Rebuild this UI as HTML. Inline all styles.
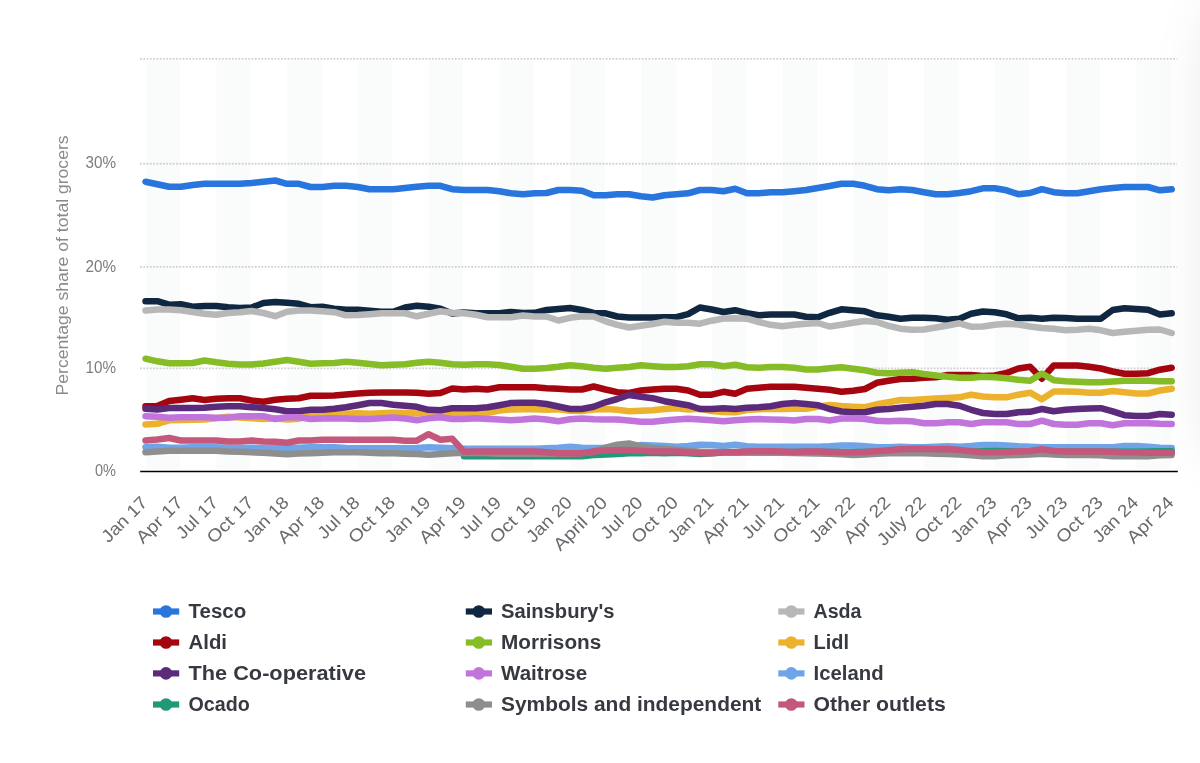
<!DOCTYPE html>
<html><head><meta charset="utf-8"><title>Grocery market share</title>
<style>
html,body{margin:0;padding:0;background:#fff;}
body{width:1200px;height:763px;overflow:hidden;position:relative;font-family:"Liberation Sans",sans-serif;}
svg{position:absolute;left:0;top:0;display:block;will-change:transform;}
text{font-family:"Liberation Sans",sans-serif;}
.ax{font-size:17px;fill:#7d7d80;}
.xl{font-size:17.5px;fill:#686a6e;}
.lg{font-size:19.5px;font-weight:bold;fill:#363a40;}
.shade{position:absolute;pointer-events:none;}
</style></head><body>

<svg width="1200" height="763" viewBox="0 0 1200 763">
<g fill="#fafbfb">
<rect x="145.70" y="60.5" width="34.38" height="408.3"/>
<rect x="216.47" y="60.5" width="34.38" height="408.3"/>
<rect x="287.24" y="60.5" width="34.38" height="408.3"/>
<rect x="358.01" y="60.5" width="34.38" height="408.3"/>
<rect x="428.78" y="60.5" width="34.38" height="408.3"/>
<rect x="499.55" y="60.5" width="34.38" height="408.3"/>
<rect x="570.32" y="60.5" width="34.38" height="408.3"/>
<rect x="641.09" y="60.5" width="34.38" height="408.3"/>
<rect x="711.86" y="60.5" width="34.38" height="408.3"/>
<rect x="782.63" y="60.5" width="34.38" height="408.3"/>
<rect x="853.40" y="60.5" width="34.38" height="408.3"/>
<rect x="924.17" y="60.5" width="34.38" height="408.3"/>
<rect x="994.94" y="60.5" width="34.38" height="408.3"/>
<rect x="1065.71" y="60.5" width="34.38" height="408.3"/>
<rect x="1136.48" y="60.5" width="34.38" height="408.3"/>
</g>
<g stroke="#d3d0d6" stroke-width="1.8" stroke-dasharray="1.8 1.48" fill="none">
<path d="M140 58.9H1177.0"/>
<path d="M140 163.75H1177.0"/>
<path d="M140 266.9H1177.0"/>
<path d="M140 368.4H1177.0"/>
</g>
<path d="M140.2 471.5H1177.8" stroke="#000" stroke-width="1.6" fill="none"/>
<g fill="none" stroke-width="6.5" stroke-linejoin="round" stroke-linecap="round">
<path stroke="#2875dd" d="M145.5 181.7 L157.3 184.2 L169.1 186.7 L180.9 186.7 L192.7 185.0 L204.5 183.8 L216.3 183.8 L228.1 183.8 L239.9 183.8 L251.7 183.0 L263.4 181.7 L275.2 180.5 L287.0 183.8 L298.8 183.8 L310.6 187.0 L322.4 187.0 L334.2 185.8 L346.0 185.8 L357.8 187.0 L369.6 189.2 L381.4 189.2 L393.2 189.2 L405.0 188.0 L416.8 186.8 L428.6 185.8 L440.4 185.8 L452.2 189.2 L464.0 190.0 L475.8 190.0 L487.6 190.0 L499.4 191.3 L511.1 193.3 L522.9 194.2 L534.7 193.3 L546.5 193.0 L558.3 190.0 L570.1 190.0 L581.9 190.8 L593.7 195.3 L605.5 195.3 L617.3 194.2 L629.1 194.2 L640.9 196.3 L652.7 197.5 L664.5 195.3 L676.3 194.3 L688.1 193.3 L699.9 190.0 L711.7 190.0 L723.5 191.3 L735.2 188.8 L747.0 193.3 L758.8 193.3 L770.6 192.2 L782.4 192.2 L794.2 191.2 L806.0 190.0 L817.8 188.0 L829.6 186.0 L841.4 183.7 L853.2 183.7 L865.0 185.8 L876.8 189.2 L888.6 190.3 L900.4 189.2 L912.2 190.0 L924.0 192.2 L935.8 194.2 L947.6 194.2 L959.4 193.0 L971.1 191.2 L982.9 188.3 L994.7 188.3 L1006.5 190.3 L1018.3 194.2 L1030.1 193.0 L1041.9 189.2 L1053.7 192.2 L1065.5 193.3 L1077.3 193.3 L1089.1 191.2 L1100.9 189.2 L1112.7 188.0 L1124.5 187.0 L1136.3 187.0 L1148.1 187.0 L1159.9 190.3 L1171.7 189.2"/>
<path stroke="#0f2741" d="M145.5 301.2 L157.3 301.2 L169.1 304.7 L180.9 304.2 L192.7 306.7 L204.5 306.0 L216.3 306.0 L228.1 307.2 L239.9 308.0 L251.7 307.5 L263.4 303.0 L275.2 302.0 L287.0 302.8 L298.8 303.8 L310.6 307.2 L322.4 306.8 L334.2 308.7 L346.0 309.8 L357.8 309.8 L369.6 310.8 L381.4 311.7 L393.2 311.7 L405.0 307.5 L416.8 305.7 L428.6 306.7 L440.4 308.7 L452.2 313.5 L464.0 312.5 L475.8 313.3 L487.6 313.2 L499.4 313.2 L511.1 312.0 L522.9 313.0 L534.7 312.8 L546.5 310.0 L558.3 309.0 L570.1 308.0 L581.9 310.0 L593.7 313.0 L605.5 313.3 L617.3 316.5 L629.1 317.5 L640.9 317.5 L652.7 317.5 L664.5 317.3 L676.3 317.2 L688.1 314.2 L699.9 307.5 L711.7 309.5 L723.5 312.0 L735.2 310.2 L747.0 313.2 L758.8 315.3 L770.6 314.5 L782.4 314.5 L794.2 314.5 L806.0 316.7 L817.8 317.3 L829.6 312.8 L841.4 309.3 L853.2 310.3 L865.0 311.3 L876.8 315.3 L888.6 316.8 L900.4 318.7 L912.2 317.7 L924.0 317.7 L935.8 318.3 L947.6 319.7 L959.4 318.7 L971.1 313.8 L982.9 311.5 L994.7 312.3 L1006.5 314.3 L1018.3 318.3 L1030.1 317.7 L1041.9 318.7 L1053.7 317.7 L1065.5 318.0 L1077.3 318.7 L1089.1 318.7 L1100.9 318.7 L1112.7 310.0 L1124.5 308.3 L1136.3 309.0 L1148.1 309.8 L1159.9 314.5 L1171.7 313.3"/>
<path stroke="#b7b7b7" d="M145.5 310.5 L157.3 309.5 L169.1 309.5 L180.9 310.3 L192.7 312.0 L204.5 313.8 L216.3 314.8 L228.1 313.0 L239.9 312.2 L251.7 311.0 L263.4 313.0 L275.2 316.2 L287.0 311.7 L298.8 310.5 L310.6 310.5 L322.4 311.3 L334.2 312.2 L346.0 315.3 L357.8 315.0 L369.6 314.2 L381.4 313.3 L393.2 313.2 L405.0 313.3 L416.8 316.3 L428.6 313.8 L440.4 311.3 L452.2 312.8 L464.0 313.2 L475.8 314.8 L487.6 317.2 L499.4 317.2 L511.1 317.2 L522.9 315.5 L534.7 316.5 L546.5 316.5 L558.3 320.5 L570.1 317.8 L581.9 316.2 L593.7 316.5 L605.5 321.3 L617.3 324.8 L629.1 327.5 L640.9 325.7 L652.7 324.0 L664.5 321.8 L676.3 322.7 L688.1 322.8 L699.9 323.7 L711.7 320.7 L723.5 318.5 L735.2 318.3 L747.0 318.7 L758.8 322.0 L770.6 324.8 L782.4 326.3 L794.2 324.7 L806.0 323.8 L817.8 323.0 L829.6 326.5 L841.4 324.7 L853.2 322.8 L865.0 321.0 L876.8 322.0 L888.6 325.8 L900.4 328.7 L912.2 329.7 L924.0 329.5 L935.8 327.5 L947.6 325.5 L959.4 323.3 L971.1 326.7 L982.9 326.5 L994.7 324.7 L1006.5 323.8 L1018.3 324.5 L1030.1 326.5 L1041.9 328.0 L1053.7 328.8 L1065.5 330.3 L1077.3 329.7 L1089.1 328.8 L1100.9 330.3 L1112.7 333.0 L1124.5 331.7 L1136.3 330.7 L1148.1 329.7 L1159.9 329.5 L1171.7 333.0"/>
<path stroke="#a5050e" d="M145.5 406.3 L157.3 406.0 L169.1 401.0 L180.9 399.7 L192.7 398.3 L204.5 400.0 L216.3 398.8 L228.1 398.3 L239.9 398.3 L251.7 400.5 L263.4 401.7 L275.2 399.7 L287.0 398.8 L298.8 398.3 L310.6 395.8 L322.4 395.8 L334.2 395.5 L346.0 394.5 L357.8 393.5 L369.6 392.7 L381.4 392.5 L393.2 392.5 L405.0 392.5 L416.8 392.8 L428.6 393.7 L440.4 393.0 L452.2 388.5 L464.0 389.5 L475.8 388.7 L487.6 389.5 L499.4 387.3 L511.1 387.3 L522.9 387.3 L534.7 387.3 L546.5 388.2 L558.3 388.7 L570.1 389.5 L581.9 389.5 L593.7 386.5 L605.5 389.5 L617.3 392.2 L629.1 393.0 L640.9 390.5 L652.7 389.5 L664.5 388.7 L676.3 388.7 L688.1 390.5 L699.9 394.7 L711.7 394.7 L723.5 391.8 L735.2 393.7 L747.0 388.7 L758.8 387.7 L770.6 386.8 L782.4 386.8 L794.2 386.8 L806.0 387.7 L817.8 388.7 L829.6 389.8 L841.4 391.7 L853.2 390.7 L865.0 389.0 L876.8 382.8 L888.6 380.7 L900.4 379.0 L912.2 378.7 L924.0 377.8 L935.8 377.2 L947.6 375.0 L959.4 375.0 L971.1 375.0 L982.9 376.0 L994.7 375.5 L1006.5 373.0 L1018.3 368.5 L1030.1 366.8 L1041.9 378.7 L1053.7 365.5 L1065.5 365.5 L1077.3 365.5 L1089.1 366.8 L1100.9 368.5 L1112.7 371.5 L1124.5 373.8 L1136.3 373.8 L1148.1 373.2 L1159.9 369.7 L1171.7 367.7"/>
<path stroke="#86bc25" d="M145.5 358.7 L157.3 361.3 L169.1 363.3 L180.9 363.2 L192.7 363.0 L204.5 360.5 L216.3 362.3 L228.1 363.7 L239.9 364.5 L251.7 364.5 L263.4 363.5 L275.2 361.7 L287.0 360.0 L298.8 361.8 L310.6 363.7 L322.4 363.3 L334.2 363.0 L346.0 361.8 L357.8 362.8 L369.6 364.0 L381.4 365.3 L393.2 364.7 L405.0 364.3 L416.8 362.8 L428.6 361.8 L440.4 362.8 L452.2 364.3 L464.0 364.7 L475.8 364.2 L487.6 364.2 L499.4 365.0 L511.1 366.8 L522.9 368.8 L534.7 368.8 L546.5 368.0 L558.3 366.8 L570.1 365.3 L581.9 366.2 L593.7 367.7 L605.5 368.8 L617.3 367.8 L629.1 367.0 L640.9 365.3 L652.7 366.2 L664.5 367.0 L676.3 367.0 L688.1 366.2 L699.9 364.3 L711.7 364.3 L723.5 366.3 L735.2 364.8 L747.0 367.3 L758.8 367.8 L770.6 367.0 L782.4 367.0 L794.2 367.8 L806.0 369.5 L817.8 369.5 L829.6 368.2 L841.4 367.3 L853.2 368.8 L865.0 370.3 L876.8 372.8 L888.6 373.2 L900.4 372.8 L912.2 372.2 L924.0 374.0 L935.8 375.5 L947.6 376.8 L959.4 377.7 L971.1 377.7 L982.9 376.8 L994.7 377.2 L1006.5 378.2 L1018.3 379.8 L1030.1 380.7 L1041.9 373.5 L1053.7 380.2 L1065.5 381.3 L1077.3 381.8 L1089.1 382.3 L1100.9 382.3 L1112.7 381.5 L1124.5 380.7 L1136.3 380.7 L1148.1 380.7 L1159.9 381.2 L1171.7 381.2"/>
<path stroke="#ecb22e" d="M145.5 424.5 L157.3 423.8 L169.1 420.3 L180.9 420.0 L192.7 419.8 L204.5 419.5 L216.3 418.3 L228.1 416.8 L239.9 417.5 L251.7 418.3 L263.4 419.0 L275.2 418.3 L287.0 419.5 L298.8 418.7 L310.6 415.5 L322.4 415.5 L334.2 414.7 L346.0 413.8 L357.8 413.3 L369.6 413.8 L381.4 413.3 L393.2 412.7 L405.0 413.0 L416.8 413.5 L428.6 411.7 L440.4 412.3 L452.2 413.8 L464.0 413.5 L475.8 413.5 L487.6 413.0 L499.4 410.5 L511.1 409.5 L522.9 409.2 L534.7 409.3 L546.5 409.8 L558.3 409.3 L570.1 410.8 L581.9 411.0 L593.7 409.5 L605.5 409.0 L617.3 409.8 L629.1 411.2 L640.9 410.7 L652.7 410.2 L664.5 409.0 L676.3 408.3 L688.1 409.5 L699.9 408.7 L711.7 411.0 L723.5 412.0 L735.2 412.3 L747.0 410.0 L758.8 409.2 L770.6 408.7 L782.4 409.0 L794.2 408.7 L806.0 408.7 L817.8 406.7 L829.6 405.0 L841.4 406.0 L853.2 406.7 L865.0 407.2 L876.8 404.3 L888.6 402.2 L900.4 400.0 L912.2 400.0 L924.0 399.3 L935.8 398.5 L947.6 398.0 L959.4 397.3 L971.1 394.7 L982.9 396.5 L994.7 397.3 L1006.5 397.3 L1018.3 394.7 L1030.1 392.7 L1041.9 399.3 L1053.7 391.5 L1065.5 391.5 L1077.3 391.8 L1089.1 392.7 L1100.9 392.7 L1112.7 391.0 L1124.5 392.2 L1136.3 393.5 L1148.1 393.5 L1159.9 390.5 L1171.7 388.7"/>
<path stroke="#5b2a7a" d="M145.5 408.8 L157.3 409.5 L169.1 408.0 L180.9 408.0 L192.7 408.0 L204.5 407.8 L216.3 406.8 L228.1 406.2 L239.9 406.2 L251.7 407.2 L263.4 408.0 L275.2 409.3 L287.0 411.2 L298.8 411.2 L310.6 409.8 L322.4 409.8 L334.2 408.7 L346.0 407.2 L357.8 405.2 L369.6 403.0 L381.4 403.0 L393.2 404.7 L405.0 405.8 L416.8 406.8 L428.6 409.8 L440.4 410.2 L452.2 408.2 L464.0 408.2 L475.8 408.2 L487.6 407.2 L499.4 405.2 L511.1 403.0 L522.9 402.7 L534.7 402.7 L546.5 404.0 L558.3 406.5 L570.1 409.0 L581.9 409.0 L593.7 406.8 L605.5 402.3 L617.3 399.0 L629.1 395.0 L640.9 396.8 L652.7 398.2 L664.5 401.2 L676.3 403.2 L688.1 405.2 L699.9 409.0 L711.7 409.0 L723.5 408.2 L735.2 409.0 L747.0 407.8 L758.8 407.2 L770.6 406.2 L782.4 404.0 L794.2 403.0 L806.0 404.0 L817.8 405.2 L829.6 409.0 L841.4 411.5 L853.2 412.2 L865.0 412.2 L876.8 409.8 L888.6 409.0 L900.4 407.8 L912.2 406.8 L924.0 405.7 L935.8 404.0 L947.6 404.0 L959.4 405.7 L971.1 409.8 L982.9 413.0 L994.7 414.0 L1006.5 414.0 L1018.3 412.3 L1030.1 411.8 L1041.9 409.0 L1053.7 411.3 L1065.5 409.8 L1077.3 409.0 L1089.1 408.5 L1100.9 408.2 L1112.7 411.3 L1124.5 415.2 L1136.3 416.0 L1148.1 416.0 L1159.9 414.0 L1171.7 414.8"/>
<path stroke="#c174dc" d="M145.5 416.2 L157.3 416.8 L169.1 417.7 L180.9 417.3 L192.7 417.3 L204.5 417.3 L216.3 417.8 L228.1 417.8 L239.9 416.2 L251.7 416.2 L263.4 416.2 L275.2 419.0 L287.0 417.3 L298.8 417.3 L310.6 419.0 L322.4 418.5 L334.2 418.2 L346.0 418.5 L357.8 419.0 L369.6 419.0 L381.4 418.2 L393.2 417.5 L405.0 418.5 L416.8 420.2 L428.6 418.2 L440.4 417.3 L452.2 419.0 L464.0 419.0 L475.8 418.2 L487.6 419.0 L499.4 419.5 L511.1 420.2 L522.9 419.5 L534.7 418.5 L546.5 419.5 L558.3 421.2 L570.1 419.3 L581.9 418.5 L593.7 419.3 L605.5 419.5 L617.3 419.5 L629.1 420.5 L640.9 421.8 L652.7 421.8 L664.5 420.5 L676.3 419.5 L688.1 418.8 L699.9 419.5 L711.7 420.2 L723.5 421.3 L735.2 420.2 L747.0 419.5 L758.8 419.0 L770.6 419.5 L782.4 419.8 L794.2 420.5 L806.0 419.0 L817.8 419.0 L829.6 420.5 L841.4 418.5 L853.2 418.2 L865.0 419.0 L876.8 420.7 L888.6 421.3 L900.4 420.7 L912.2 421.3 L924.0 423.2 L935.8 423.2 L947.6 422.3 L959.4 422.3 L971.1 424.0 L982.9 422.3 L994.7 422.3 L1006.5 422.3 L1018.3 424.0 L1030.1 424.0 L1041.9 420.7 L1053.7 424.0 L1065.5 424.8 L1077.3 424.8 L1089.1 423.2 L1100.9 423.2 L1112.7 425.2 L1124.5 423.2 L1136.3 423.2 L1148.1 423.2 L1159.9 423.8 L1171.7 424.0"/>
<path stroke="#6fa4e6" d="M145.5 447.2 L157.3 446.8 L169.1 447.7 L180.9 447.7 L192.7 447.2 L204.5 447.2 L216.3 447.2 L228.1 447.7 L239.9 448.0 L251.7 447.7 L263.4 448.0 L275.2 448.3 L287.0 448.3 L298.8 447.7 L310.6 447.2 L322.4 447.2 L334.2 447.3 L346.0 448.0 L357.8 448.3 L369.6 448.3 L381.4 448.3 L393.2 448.3 L405.0 448.3 L416.8 448.0 L428.6 447.2 L440.4 447.8 L452.2 448.3 L464.0 448.8 L475.8 448.8 L487.6 448.8 L499.4 448.8 L511.1 448.8 L522.9 448.8 L534.7 448.8 L546.5 448.3 L558.3 447.7 L570.1 446.8 L581.9 447.7 L593.7 448.0 L605.5 448.0 L617.3 447.8 L629.1 447.7 L640.9 445.0 L652.7 445.5 L664.5 446.0 L676.3 446.7 L688.1 446.0 L699.9 444.7 L711.7 445.0 L723.5 446.0 L735.2 444.7 L747.0 446.3 L758.8 446.7 L770.6 446.7 L782.4 446.7 L794.2 446.7 L806.0 446.7 L817.8 446.7 L829.6 446.3 L841.4 445.5 L853.2 445.5 L865.0 446.3 L876.8 447.2 L888.6 447.2 L900.4 446.7 L912.2 447.2 L924.0 447.2 L935.8 446.7 L947.6 446.3 L959.4 446.7 L971.1 446.0 L982.9 445.0 L994.7 445.0 L1006.5 445.5 L1018.3 446.3 L1030.1 446.7 L1041.9 447.2 L1053.7 447.2 L1065.5 447.2 L1077.3 447.2 L1089.1 447.2 L1100.9 447.2 L1112.7 447.2 L1124.5 446.0 L1136.3 446.0 L1148.1 446.7 L1159.9 447.7 L1171.7 448.0"/>
<path stroke="#1f9977" d="M464.0 456.2 L475.8 456.2 L487.6 456.2 L499.4 456.2 L511.1 456.2 L522.9 456.2 L534.7 456.2 L546.5 456.2 L558.3 456.2 L570.1 456.2 L581.9 456.2 L593.7 455.0 L605.5 454.5 L617.3 454.0 L629.1 453.3 L640.9 453.3 L652.7 452.8 L664.5 453.3 L676.3 452.8 L688.1 453.3 L699.9 454.0 L711.7 453.3 L723.5 452.5 L735.2 452.5 L747.0 452.5 L758.8 452.5 L770.6 452.5 L782.4 452.2 L794.2 452.0 L806.0 452.0 L817.8 452.0 L829.6 452.0 L841.4 452.0 L853.2 452.0 L865.0 452.0 L876.8 451.7 L888.6 451.7 L900.4 451.7 L912.2 451.7 L924.0 451.7 L935.8 451.7 L947.6 451.7 L959.4 451.7 L971.1 451.7 L982.9 451.3 L994.7 451.0 L1006.5 451.3 L1018.3 451.7 L1030.1 451.7 L1041.9 451.7 L1053.7 451.7 L1065.5 451.7 L1077.3 451.7 L1089.1 451.7 L1100.9 451.7 L1112.7 451.7 L1124.5 451.7 L1136.3 451.7 L1148.1 451.5 L1159.9 451.3 L1171.7 451.3"/>
<path stroke="#8e8e8e" d="M145.5 452.2 L157.3 451.5 L169.1 450.7 L180.9 450.7 L192.7 450.7 L204.5 450.7 L216.3 450.7 L228.1 451.5 L239.9 451.8 L251.7 452.3 L263.4 452.7 L275.2 453.5 L287.0 454.3 L298.8 453.5 L310.6 453.2 L322.4 452.7 L334.2 452.3 L346.0 452.3 L357.8 452.3 L369.6 452.7 L381.4 453.2 L393.2 453.3 L405.0 453.7 L416.8 454.0 L428.6 454.7 L440.4 454.0 L452.2 453.2 L464.0 452.7 L475.8 453.0 L487.6 453.3 L499.4 453.7 L511.1 453.7 L522.9 453.7 L534.7 453.7 L546.5 453.7 L558.3 453.7 L570.1 453.7 L581.9 453.3 L593.7 451.7 L605.5 447.7 L617.3 444.7 L629.1 443.5 L640.9 446.3 L652.7 448.0 L664.5 448.8 L676.3 449.7 L688.1 450.8 L699.9 451.7 L711.7 452.0 L723.5 452.0 L735.2 452.0 L747.0 452.0 L758.8 452.2 L770.6 452.5 L782.4 452.7 L794.2 453.0 L806.0 453.3 L817.8 453.5 L829.6 453.7 L841.4 454.3 L853.2 455.0 L865.0 454.5 L876.8 453.7 L888.6 453.3 L900.4 453.3 L912.2 453.3 L924.0 453.3 L935.8 453.7 L947.6 454.0 L959.4 454.5 L971.1 455.3 L982.9 456.2 L994.7 456.2 L1006.5 455.3 L1018.3 455.0 L1030.1 454.5 L1041.9 453.7 L1053.7 454.5 L1065.5 455.0 L1077.3 455.0 L1089.1 455.0 L1100.9 455.3 L1112.7 456.2 L1124.5 456.2 L1136.3 456.2 L1148.1 456.2 L1159.9 455.3 L1171.7 455.0"/>
<path stroke="#c4577a" d="M145.5 440.5 L157.3 439.5 L169.1 438.0 L180.9 440.5 L192.7 440.5 L204.5 440.5 L216.3 440.5 L228.1 441.5 L239.9 441.5 L251.7 440.5 L263.4 441.5 L275.2 441.8 L287.0 442.7 L298.8 440.5 L310.6 440.5 L322.4 439.7 L334.2 439.7 L346.0 439.7 L357.8 439.7 L369.6 439.7 L381.4 439.7 L393.2 439.7 L405.0 440.7 L416.8 440.7 L428.6 434.2 L440.4 439.7 L452.2 438.8 L464.0 451.7 L475.8 451.5 L487.6 451.5 L499.4 451.5 L511.1 451.5 L522.9 451.5 L534.7 451.5 L546.5 452.3 L558.3 453.2 L570.1 453.2 L581.9 453.2 L593.7 451.5 L605.5 450.2 L617.3 450.2 L629.1 450.2 L640.9 450.7 L652.7 451.5 L664.5 451.5 L676.3 451.5 L688.1 452.3 L699.9 453.2 L711.7 453.2 L723.5 452.3 L735.2 452.3 L747.0 451.5 L758.8 451.2 L770.6 451.2 L782.4 451.5 L794.2 452.0 L806.0 451.5 L817.8 451.5 L829.6 452.0 L841.4 452.3 L853.2 452.3 L865.0 452.0 L876.8 451.2 L888.6 450.2 L900.4 449.3 L912.2 449.0 L924.0 448.7 L935.8 449.3 L947.6 449.0 L959.4 450.0 L971.1 451.3 L982.9 452.3 L994.7 452.3 L1006.5 452.0 L1018.3 451.5 L1030.1 451.0 L1041.9 449.3 L1053.7 451.0 L1065.5 451.5 L1077.3 451.5 L1089.1 451.5 L1100.9 451.5 L1112.7 451.8 L1124.5 452.3 L1136.3 452.3 L1148.1 452.7 L1159.9 452.7 L1171.7 452.7"/>
</g>
<text class="ax" x="85.5" y="168.3" textLength="30.5" lengthAdjust="spacingAndGlyphs">30%</text>
<text class="ax" x="85.5" y="271.5" textLength="30.5" lengthAdjust="spacingAndGlyphs">20%</text>
<text class="ax" x="85.5" y="372.9" textLength="30.5" lengthAdjust="spacingAndGlyphs">10%</text>
<text class="ax" x="95.0" y="476.0" textLength="21.0" lengthAdjust="spacingAndGlyphs">0%</text>
<text x="0" y="0" transform="translate(68.3 265.4) rotate(-90)" text-anchor="middle" textLength="260" lengthAdjust="spacingAndGlyphs" style="font-size:16.5px;fill:#8a8a8a">Percentage share of total grocers</text>
<text class="ax xl" transform="translate(148.5 503.6) rotate(-45) scale(1.075 1)" text-anchor="end">Jan 17</text>
<text class="ax xl" transform="translate(183.9 503.6) rotate(-45) scale(1.125 1)" text-anchor="end">Apr 17</text>
<text class="ax xl" transform="translate(219.3 503.6) rotate(-45) scale(1.1 1)" text-anchor="end">Jul 17</text>
<text class="ax xl" transform="translate(254.7 503.6) rotate(-45) scale(1.125 1)" text-anchor="end">Oct 17</text>
<text class="ax xl" transform="translate(290.0 503.6) rotate(-45) scale(1.075 1)" text-anchor="end">Jan 18</text>
<text class="ax xl" transform="translate(325.4 503.6) rotate(-45) scale(1.125 1)" text-anchor="end">Apr 18</text>
<text class="ax xl" transform="translate(360.8 503.6) rotate(-45) scale(1.1 1)" text-anchor="end">Jul 18</text>
<text class="ax xl" transform="translate(396.2 503.6) rotate(-45) scale(1.125 1)" text-anchor="end">Oct 18</text>
<text class="ax xl" transform="translate(431.6 503.6) rotate(-45) scale(1.075 1)" text-anchor="end">Jan 19</text>
<text class="ax xl" transform="translate(467.0 503.6) rotate(-45) scale(1.125 1)" text-anchor="end">Apr 19</text>
<text class="ax xl" transform="translate(502.4 503.6) rotate(-45) scale(1.1 1)" text-anchor="end">Jul 19</text>
<text class="ax xl" transform="translate(537.7 503.6) rotate(-45) scale(1.125 1)" text-anchor="end">Oct 19</text>
<text class="ax xl" transform="translate(573.1 503.6) rotate(-45) scale(1.075 1)" text-anchor="end">Jan 20</text>
<text class="ax xl" transform="translate(608.5 503.6) rotate(-45) scale(1.15 1)" text-anchor="end">April 20</text>
<text class="ax xl" transform="translate(643.9 503.6) rotate(-45) scale(1.1 1)" text-anchor="end">Jul 20</text>
<text class="ax xl" transform="translate(679.3 503.6) rotate(-45) scale(1.125 1)" text-anchor="end">Oct 20</text>
<text class="ax xl" transform="translate(714.7 503.6) rotate(-45) scale(1.075 1)" text-anchor="end">Jan 21</text>
<text class="ax xl" transform="translate(750.0 503.6) rotate(-45) scale(1.125 1)" text-anchor="end">Apr 21</text>
<text class="ax xl" transform="translate(785.4 503.6) rotate(-45) scale(1.1 1)" text-anchor="end">Jul 21</text>
<text class="ax xl" transform="translate(820.8 503.6) rotate(-45) scale(1.125 1)" text-anchor="end">Oct 21</text>
<text class="ax xl" transform="translate(856.2 503.6) rotate(-45) scale(1.075 1)" text-anchor="end">Jan 22</text>
<text class="ax xl" transform="translate(891.6 503.6) rotate(-45) scale(1.125 1)" text-anchor="end">Apr 22</text>
<text class="ax xl" transform="translate(927.0 503.6) rotate(-45) scale(1.1 1)" text-anchor="end">July 22</text>
<text class="ax xl" transform="translate(962.4 503.6) rotate(-45) scale(1.125 1)" text-anchor="end">Oct 22</text>
<text class="ax xl" transform="translate(997.7 503.6) rotate(-45) scale(1.075 1)" text-anchor="end">Jan 23</text>
<text class="ax xl" transform="translate(1033.1 503.6) rotate(-45) scale(1.125 1)" text-anchor="end">Apr 23</text>
<text class="ax xl" transform="translate(1068.5 503.6) rotate(-45) scale(1.1 1)" text-anchor="end">Jul 23</text>
<text class="ax xl" transform="translate(1103.9 503.6) rotate(-45) scale(1.125 1)" text-anchor="end">Oct 23</text>
<text class="ax xl" transform="translate(1139.3 503.6) rotate(-45) scale(1.075 1)" text-anchor="end">Jan 24</text>
<text class="ax xl" transform="translate(1174.7 503.6) rotate(-45) scale(1.125 1)" text-anchor="end">Apr 24</text>
<path d="M153 611.5h26.2" stroke="#2875dd" stroke-width="6.2" fill="none"/><circle cx="166" cy="611.5" r="6.3" fill="#2875dd"/>
<text class="lg" x="188.5" y="618.3" textLength="57.7" lengthAdjust="spacingAndGlyphs">Tesco</text>
<path d="M465.8 611.5h26.2" stroke="#0f2741" stroke-width="6.2" fill="none"/><circle cx="478.8" cy="611.5" r="6.3" fill="#0f2741"/>
<text class="lg" x="501" y="618.3" textLength="113.6" lengthAdjust="spacingAndGlyphs">Sainsbury&#39;s</text>
<path d="M778.3 611.5h26.2" stroke="#b7b7b7" stroke-width="6.2" fill="none"/><circle cx="791.3" cy="611.5" r="6.3" fill="#b7b7b7"/>
<text class="lg" x="813.5" y="618.3" textLength="48" lengthAdjust="spacingAndGlyphs">Asda</text>
<path d="M153 642.5h26.2" stroke="#a5050e" stroke-width="6.2" fill="none"/><circle cx="166" cy="642.5" r="6.3" fill="#a5050e"/>
<text class="lg" x="188.5" y="649.3" textLength="38.5" lengthAdjust="spacingAndGlyphs">Aldi</text>
<path d="M465.8 642.5h26.2" stroke="#86bc25" stroke-width="6.2" fill="none"/><circle cx="478.8" cy="642.5" r="6.3" fill="#86bc25"/>
<text class="lg" x="501" y="649.3" textLength="100.3" lengthAdjust="spacingAndGlyphs">Morrisons</text>
<path d="M778.3 642.5h26.2" stroke="#ecb22e" stroke-width="6.2" fill="none"/><circle cx="791.3" cy="642.5" r="6.3" fill="#ecb22e"/>
<text class="lg" x="813.5" y="649.3" textLength="35.5" lengthAdjust="spacingAndGlyphs">Lidl</text>
<path d="M153 673.4h26.2" stroke="#5b2a7a" stroke-width="6.2" fill="none"/><circle cx="166" cy="673.4" r="6.3" fill="#5b2a7a"/>
<text class="lg" x="188.5" y="680.2" textLength="177.5" lengthAdjust="spacingAndGlyphs">The Co-operative</text>
<path d="M465.8 673.4h26.2" stroke="#c174dc" stroke-width="6.2" fill="none"/><circle cx="478.8" cy="673.4" r="6.3" fill="#c174dc"/>
<text class="lg" x="501" y="680.2" textLength="86.1" lengthAdjust="spacingAndGlyphs">Waitrose</text>
<path d="M778.3 673.4h26.2" stroke="#6fa4e6" stroke-width="6.2" fill="none"/><circle cx="791.3" cy="673.4" r="6.3" fill="#6fa4e6"/>
<text class="lg" x="813.5" y="680.2" textLength="70.1" lengthAdjust="spacingAndGlyphs">Iceland</text>
<path d="M153 704.5h26.2" stroke="#1f9977" stroke-width="6.2" fill="none"/><circle cx="166" cy="704.5" r="6.3" fill="#1f9977"/>
<text class="lg" x="188.5" y="711.3" textLength="61.3" lengthAdjust="spacingAndGlyphs">Ocado</text>
<path d="M465.8 704.5h26.2" stroke="#8e8e8e" stroke-width="6.2" fill="none"/><circle cx="478.8" cy="704.5" r="6.3" fill="#8e8e8e"/>
<text class="lg" x="501" y="711.3" textLength="260.3" lengthAdjust="spacingAndGlyphs">Symbols and independent</text>
<path d="M778.3 704.5h26.2" stroke="#c4577a" stroke-width="6.2" fill="none"/><circle cx="791.3" cy="704.5" r="6.3" fill="#c4577a"/>
<text class="lg" x="813.5" y="711.3" textLength="132.3" lengthAdjust="spacingAndGlyphs">Other outlets</text>
</svg>
<div class="shade" style="left:1218px;top:6px;width:200px;height:452px;border-radius:30px;box-shadow:0 0 64px 0 rgba(0,0,0,0.13);"></div>
</body></html>
